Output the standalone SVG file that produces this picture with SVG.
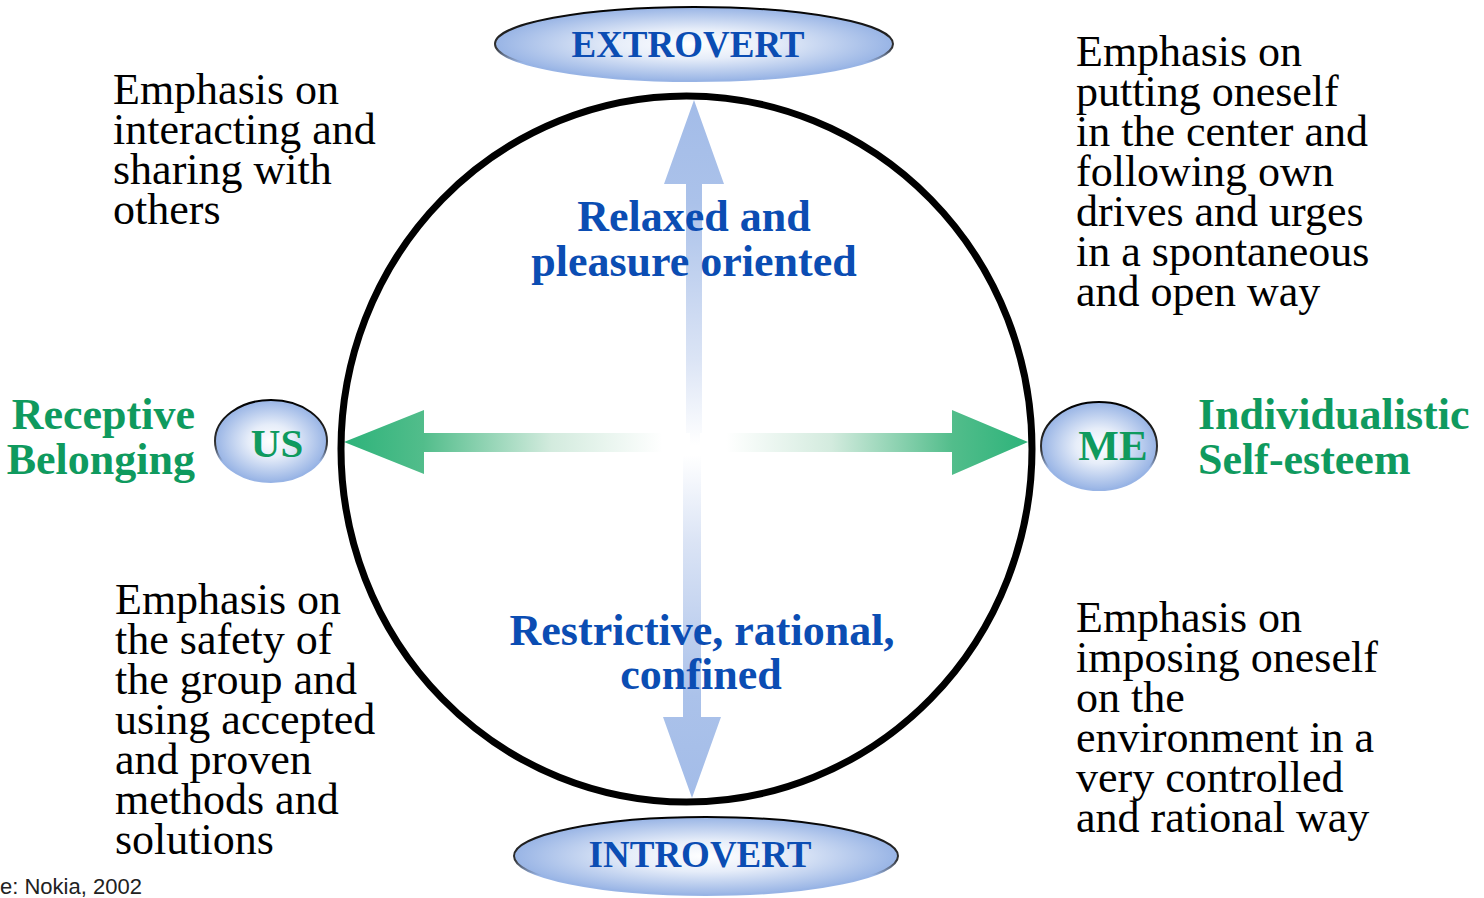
<svg xmlns="http://www.w3.org/2000/svg" width="1484" height="898" viewBox="0 0 1484 898">
<style>
  .body { font-family: "Liberation Serif", "Times New Roman", serif; font-size: 44px; fill: #000; }
  .blue { font-family: "Liberation Serif", "Times New Roman", serif; font-weight: bold; font-size: 44px; fill: #0b4db3; text-anchor: middle; }
  .green { font-family: "Liberation Serif", "Times New Roman", serif; font-weight: bold; font-size: 44px; fill: #0f9a5e; }
  .lbl { font-family: "Liberation Serif", "Times New Roman", serif; font-weight: bold; text-anchor: middle; }
  .oval { fill: url(#ovalFill); stroke: url(#ovalStroke); stroke-width: 2; }
  .src { font-family: "Liberation Sans", Arial, sans-serif; font-size: 22px; fill: #222; }
</style>
<defs>
  <radialGradient id="ovalFill" cx="0.5" cy="0.5" r="0.5">
    <stop offset="0" stop-color="#ffffff"/>
    <stop offset="0.4" stop-color="#e6edf9"/>
    <stop offset="1" stop-color="#98b4e5"/>
  </radialGradient>
  <linearGradient id="ovalStroke" x1="0" y1="0" x2="0" y2="1">
    <stop offset="0" stop-color="#000"/>
    <stop offset="0.55" stop-color="#333"/>
    <stop offset="0.75" stop-color="#98b4e5"/>
    <stop offset="1" stop-color="#98b4e5"/>
  </linearGradient>
  <linearGradient id="gUp" gradientUnits="userSpaceOnUse" x1="0" y1="100" x2="0" y2="445">
    <stop offset="0" stop-color="#a3bce8"/>
    <stop offset="0.3" stop-color="#abc2ea"/>
    <stop offset="0.75" stop-color="#dbe4f5"/>
    <stop offset="1" stop-color="#ffffff"/>
  </linearGradient>
  <linearGradient id="gDown" gradientUnits="userSpaceOnUse" x1="0" y1="798" x2="0" y2="455">
    <stop offset="0" stop-color="#a3bce8"/>
    <stop offset="0.3" stop-color="#abc2ea"/>
    <stop offset="0.75" stop-color="#dbe4f5"/>
    <stop offset="1" stop-color="#ffffff"/>
  </linearGradient>
  <linearGradient id="gLeft" gradientUnits="userSpaceOnUse" x1="344" y1="0" x2="690" y2="0">
    <stop offset="0" stop-color="#2db37a"/>
    <stop offset="0.23" stop-color="#52bd8b"/>
    <stop offset="0.6" stop-color="#d3ebde"/>
    <stop offset="0.92" stop-color="#ffffff"/>
  </linearGradient>
  <linearGradient id="gRight" gradientUnits="userSpaceOnUse" x1="1028" y1="0" x2="700" y2="0">
    <stop offset="0" stop-color="#2db37a"/>
    <stop offset="0.23" stop-color="#52bd8b"/>
    <stop offset="0.6" stop-color="#d3ebde"/>
    <stop offset="0.92" stop-color="#ffffff"/>
  </linearGradient>
</defs>

<g id="connectors">
  <path d="M694,100 L724,184 L702,184 L702,445 L686,445 L686,184 L664,184 Z" fill="url(#gUp)"/>
  <path d="M692,798 L721,717 L701,717 L701,455 L683,455 L683,717 L663,717 Z" fill="url(#gDown)"/>
  <path d="M344,442 L424,410 L424,433 L690,433 L690,452 L424,452 L424,474 Z" fill="url(#gLeft)"/>
  <path d="M1028,442 L952,410 L952,433 L700,433 L700,452 L952,452 L952,475 Z" fill="url(#gRight)"/>
</g>

<g id="circle">
  <ellipse cx="686.5" cy="449" rx="345.5" ry="353" fill="none" stroke="#000" stroke-width="7"/>
</g>

<g id="extrovert">
  <ellipse class="oval" cx="694" cy="44" rx="199" ry="37"/>
  <text class="lbl" x="688" y="57" font-size="37" fill="#0b4db3">EXTROVERT</text>
</g>
<g id="introvert">
  <ellipse class="oval" cx="706" cy="856" rx="192" ry="39"/>
  <text class="lbl" x="700" y="867" font-size="37" fill="#0b4db3">INTROVERT</text>
</g>
<g id="us">
  <ellipse class="oval" cx="271" cy="441" rx="56" ry="41"/>
  <text class="lbl" x="277" y="457" font-size="41" fill="#0f9a5e">US</text>
</g>
<g id="me">
  <ellipse class="oval" cx="1099" cy="446" rx="58" ry="44"/>
  <text class="lbl" x="1113" y="460" font-size="43" fill="#0f9a5e">ME</text>
</g>

<g id="us-label">
  <text class="green" x="195" y="429" text-anchor="end">Receptive</text>
  <text class="green" x="195" y="474" text-anchor="end">Belonging</text>
</g>
<g id="me-label">
  <text class="green" x="1198" y="429">Individualistic</text>
  <text class="green" x="1198" y="474">Self-esteem</text>
</g>

<g id="extrovert-quadrant">
  <text class="blue" x="694" y="231">Relaxed and</text>
  <text class="blue" x="694" y="276">pleasure oriented</text>
</g>
<g id="introvert-quadrant">
  <text class="blue" x="702" y="645">Restrictive, rational,</text>
  <text class="blue" x="701" y="689">confined</text>
</g>

<g id="text-top-left">
  <text class="body" x="113" y="104">Emphasis on</text>
  <text class="body" x="113" y="144">interacting and</text>
  <text class="body" x="113" y="184">sharing with</text>
  <text class="body" x="113" y="224">others</text>
</g>
<g id="text-top-right">
  <text class="body" x="1076" y="66">Emphasis on</text>
  <text class="body" x="1076" y="106">putting oneself</text>
  <text class="body" x="1076" y="146">in the center and</text>
  <text class="body" x="1076" y="186">following own</text>
  <text class="body" x="1076" y="226">drives and urges</text>
  <text class="body" x="1076" y="266">in a spontaneous</text>
  <text class="body" x="1076" y="306">and open way</text>
</g>
<g id="text-bottom-left">
  <text class="body" x="115" y="614">Emphasis on</text>
  <text class="body" x="115" y="654">the safety of</text>
  <text class="body" x="115" y="694">the group and</text>
  <text class="body" x="115" y="734">using accepted</text>
  <text class="body" x="115" y="774">and proven</text>
  <text class="body" x="115" y="814">methods and</text>
  <text class="body" x="115" y="854">solutions</text>
</g>
<g id="text-bottom-right">
  <text class="body" x="1076" y="632">Emphasis on</text>
  <text class="body" x="1076" y="672">imposing oneself</text>
  <text class="body" x="1076" y="712">on the</text>
  <text class="body" x="1076" y="752">environment in a</text>
  <text class="body" x="1076" y="792">very controlled</text>
  <text class="body" x="1076" y="832">and rational way</text>
</g>
<g id="source">
  <text class="src" x="0" y="894">e: Nokia, 2002</text>
</g>
</svg>
